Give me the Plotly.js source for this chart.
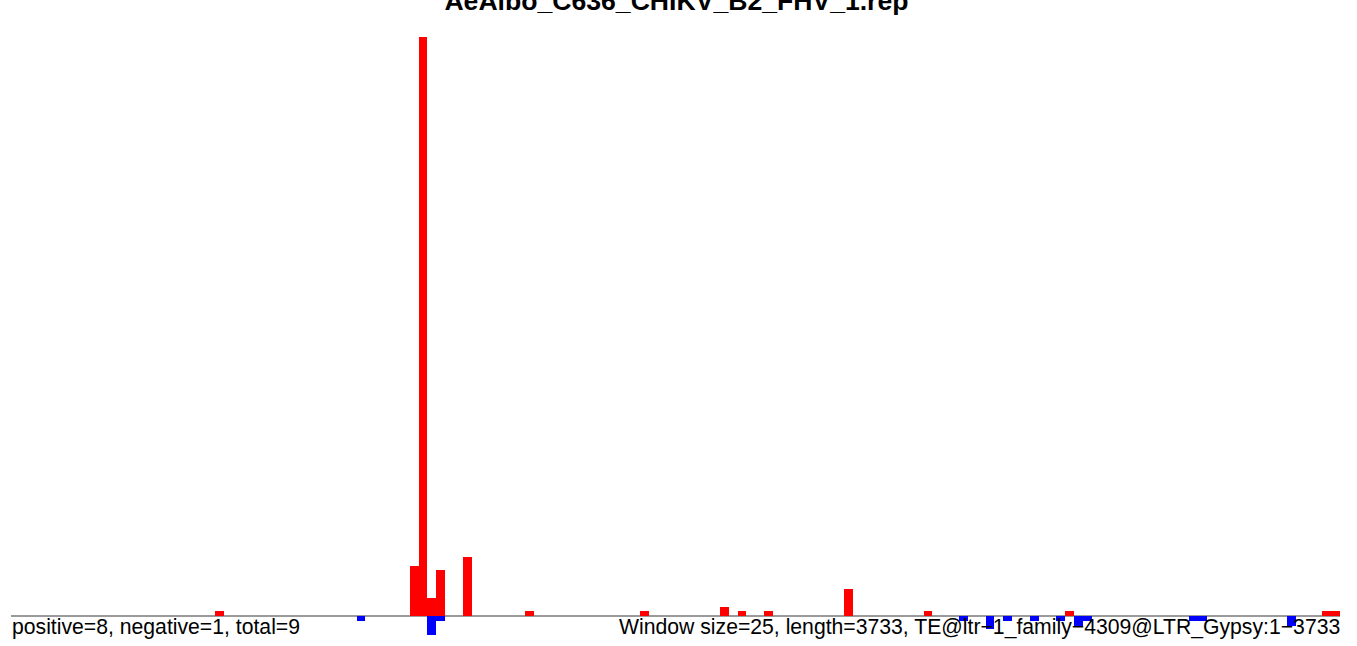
<!DOCTYPE html>
<html>
<head>
<meta charset="utf-8">
<script src="https://cdn.plot.ly/plotly-3.0.1.min.js"></script>
<style>html,body{margin:0;padding:0;background:#fff;}#chart{width:1357px;height:646px;}</style>
</head>
<body>
<div id="chart"></div>
<script>
// Window index (window size 25 bp) and signal for each strand
const windowSize = 25;
const seqLength = 3733;
const posWindows = [23, 45, 46, 47, 48, 51, 58, 71, 80, 82, 85, 94, 103, 119, 148, 149];
const posValues  = [1, 10.3, 118.2, 3.7, 9.4, 12, 1, 1, 1.9, 1, 1, 5.5, 1, 1, 1, 1];
const negWindows = [39, 47, 48, 107, 110, 112, 115, 118, 120, 121, 133, 134, 144];
const negValues  = [-1, -3.9, -1, -1, -2.7, -1, -1, -1, -2, -1, -1, -1, -2];

const titleText = "AeAlbo_C636_CHIKV_B2_FHV_1.rep";
const leftNote = "positive=8, negative=1, total=9";
const rightNote = "Window size=25, length=3733, TE@ltr\u22121_family\u22124309@LTR_Gypsy:1\u22123733";

const nWindows = 150;

const traces = [
  {type: 'bar', x: posWindows.map(w => w * windowSize), y: posValues,
   width: windowSize, offset: 0, marker: {color: '#FF0000', line: {width: 0}}, hoverinfo: 'x+y'},
  {type: 'bar', x: negWindows.map(w => w * windowSize), y: negValues,
   width: windowSize, offset: 0, marker: {color: '#0000FF', line: {width: 0}}, hoverinfo: 'x+y'}
];

const layout = {
  width: 1357, height: 646,
  margin: {l: 11, r: 17, t: 37, b: 6, pad: 0},
  paper_bgcolor: '#ffffff', plot_bgcolor: '#ffffff',
  showlegend: false,
  barmode: 'overlay', bargap: 0,
  font: {family: 'Liberation Sans, Arial, sans-serif', color: '#000000'},
  title: {text: '<b>' + titleText + '</b>', font: {size: 26.6, family: 'Liberation Sans, Arial, sans-serif', color: '#000'},
          x: 0.4985, xanchor: 'center', xref: 'container', yref: 'container', y: 0.9988, yanchor: 'middle'},
  xaxis: {range: [0, nWindows * windowSize], visible: false, fixedrange: true},
  yaxis: {range: [-4.9, 118.2], visible: false, fixedrange: true},
  shapes: [{type: 'line', xref: 'x', yref: 'y', x0: 0, x1: nWindows * windowSize, y0: 0, y1: 0,
            line: {color: '#9a9a9a', width: 2}, layer: 'below'}],
  annotations: [
    {text: leftNote, xref: 'paper', yref: 'paper', x: 0, y: 0.0221, xanchor: 'left', yanchor: 'middle',
     xshift: -1.5, showarrow: false, font: {size: 21.2, color: '#000'}},
    {text: rightNote, xref: 'paper', yref: 'paper', x: 1, y: 0.0221, xanchor: 'right', yanchor: 'middle',
     xshift: 1.5, showarrow: false, font: {size: 21.2, color: '#000'}}
  ]
};

Plotly.newPlot('chart', traces, layout, {displayModeBar: false, staticPlot: true});
</script>
</body>
</html>
